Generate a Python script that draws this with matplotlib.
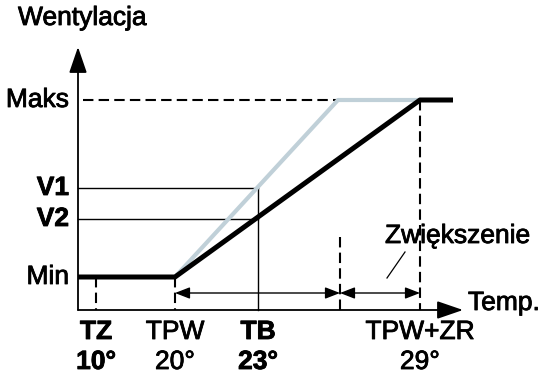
import matplotlib
matplotlib.use("Agg")
import matplotlib.pyplot as plt
import matplotlib.patheffects as pe

plt.rcParams["font.family"] = ["Liberation Sans", "DejaVu Sans"]

# schematic positions (not to scale) along the temperature axis
x_names = ["TZ", "TPW", "TB", "TPW+ZR"]
x_values = ["10°", "20°", "23°", "29°"]
x_pos = [18, 97, 180, 342]
x_bold = [True, False, True, False]
x_mid = 262  # end of the TPW..TB range marker

# ventilation levels
y_names = ["Maks", "V1", "V2", "Min"]
y_pos = [210, 122, 91, 33]
y_bold = [False, True, True, False]

# control curves: black = standard, gray = faster raise
black_x = [0, 97, 342, 375]
black_y = [33, 33, 210, 210]
gray_x = [97, 260, 342]
gray_y = [33, 210, 210]

GRAY = "#c0d0d8"
FS = 19
heavy = [pe.withStroke(linewidth=0.6, foreground="black")]

fig = plt.figure(figsize=(5.55, 3.75), dpi=100)
ax = fig.add_axes([0, 0, 1, 1])
ax.set_xlim(-78, 477)
ax.set_ylim(-65, 310)
ax.axis("off")

maks, v1, v2, vmin = y_pos
tz, tpw, tb, tzr = x_pos

# axes with arrows
axis_arrow = dict(arrowstyle="-|>,head_length=1.6,head_width=0.55", mutation_scale=10,
                  lw=1.3, color="black", shrinkA=0, shrinkB=0)
ax.annotate("", xy=(0, 263), xytext=(0, 0), arrowprops=axis_arrow)
ax.annotate("", xy=(385, 0), xytext=(0, 0), arrowprops=axis_arrow)

# dashed guides
dash = dict(color="black", lw=1.5, dashes=(5, 2.5))
ax.plot([5, gray_x[1]], [maks, maks], **dash)
ax.plot([tzr, tzr], [maks, 0], **dash)
ax.plot([x_mid, x_mid], [73, 0], **dash)
ax.plot([tz, tz], [vmin, 0], **dash)
ax.plot([tpw, tpw], [vmin, 0], **dash)

# thin guides for V1, V2, TB
ax.plot([0, tb], [v1, v1], color="black", lw=1.0)
ax.plot([0, tb], [v2, v2], color="black", lw=1.0)
ax.plot([tb, tb], [v1, 0], color="black", lw=1.0)

# curves
ax.plot(gray_x, gray_y, color=GRAY, lw=3.0, solid_capstyle="butt", zorder=3)
ax.plot(black_x, black_y, color="black", lw=3.6, solid_capstyle="butt", zorder=4)

# dimension arrows
dim = dict(arrowstyle="<|-|>,head_length=0.9,head_width=0.35", mutation_scale=10,
           lw=1.0, color="black", shrinkA=0, shrinkB=0)
ax.annotate("", xy=(x_mid, 17), xytext=(tpw, 17), arrowprops=dim)
ax.annotate("", xy=(tzr, 17), xytext=(x_mid, 17), arrowprops=dim)

# labels
ax.text(-60, 292, "Wentylacja", fontsize=FS, va="center", ha="left", path_effects=heavy)
ax.text(390, 0, "Temp.", fontsize=FS, va="baseline", ha="left", path_effects=heavy)
ax.text(307, 67, "Zwiększenie", fontsize=FS, va="baseline", ha="left", path_effects=heavy)
ax.plot([327, 309], [58, 32], color="black", lw=0.9)

for name, y, bold in zip(y_names, y_pos, y_bold):
    ax.text(-9, y, name, fontsize=FS, ha="right", va="center",
            fontweight="bold" if bold else "normal", path_effects=heavy)

for name, val, x, bold in zip(x_names, x_values, x_pos, x_bold):
    w = "bold" if bold else "normal"
    ax.text(x, -22, name, fontsize=FS, ha="center", va="center", fontweight=w,
            path_effects=heavy)
    ax.text(x, -52, val, fontsize=FS, ha="center", va="center", fontweight=w,
            path_effects=heavy)

fig.savefig("out.png", dpi=100)
